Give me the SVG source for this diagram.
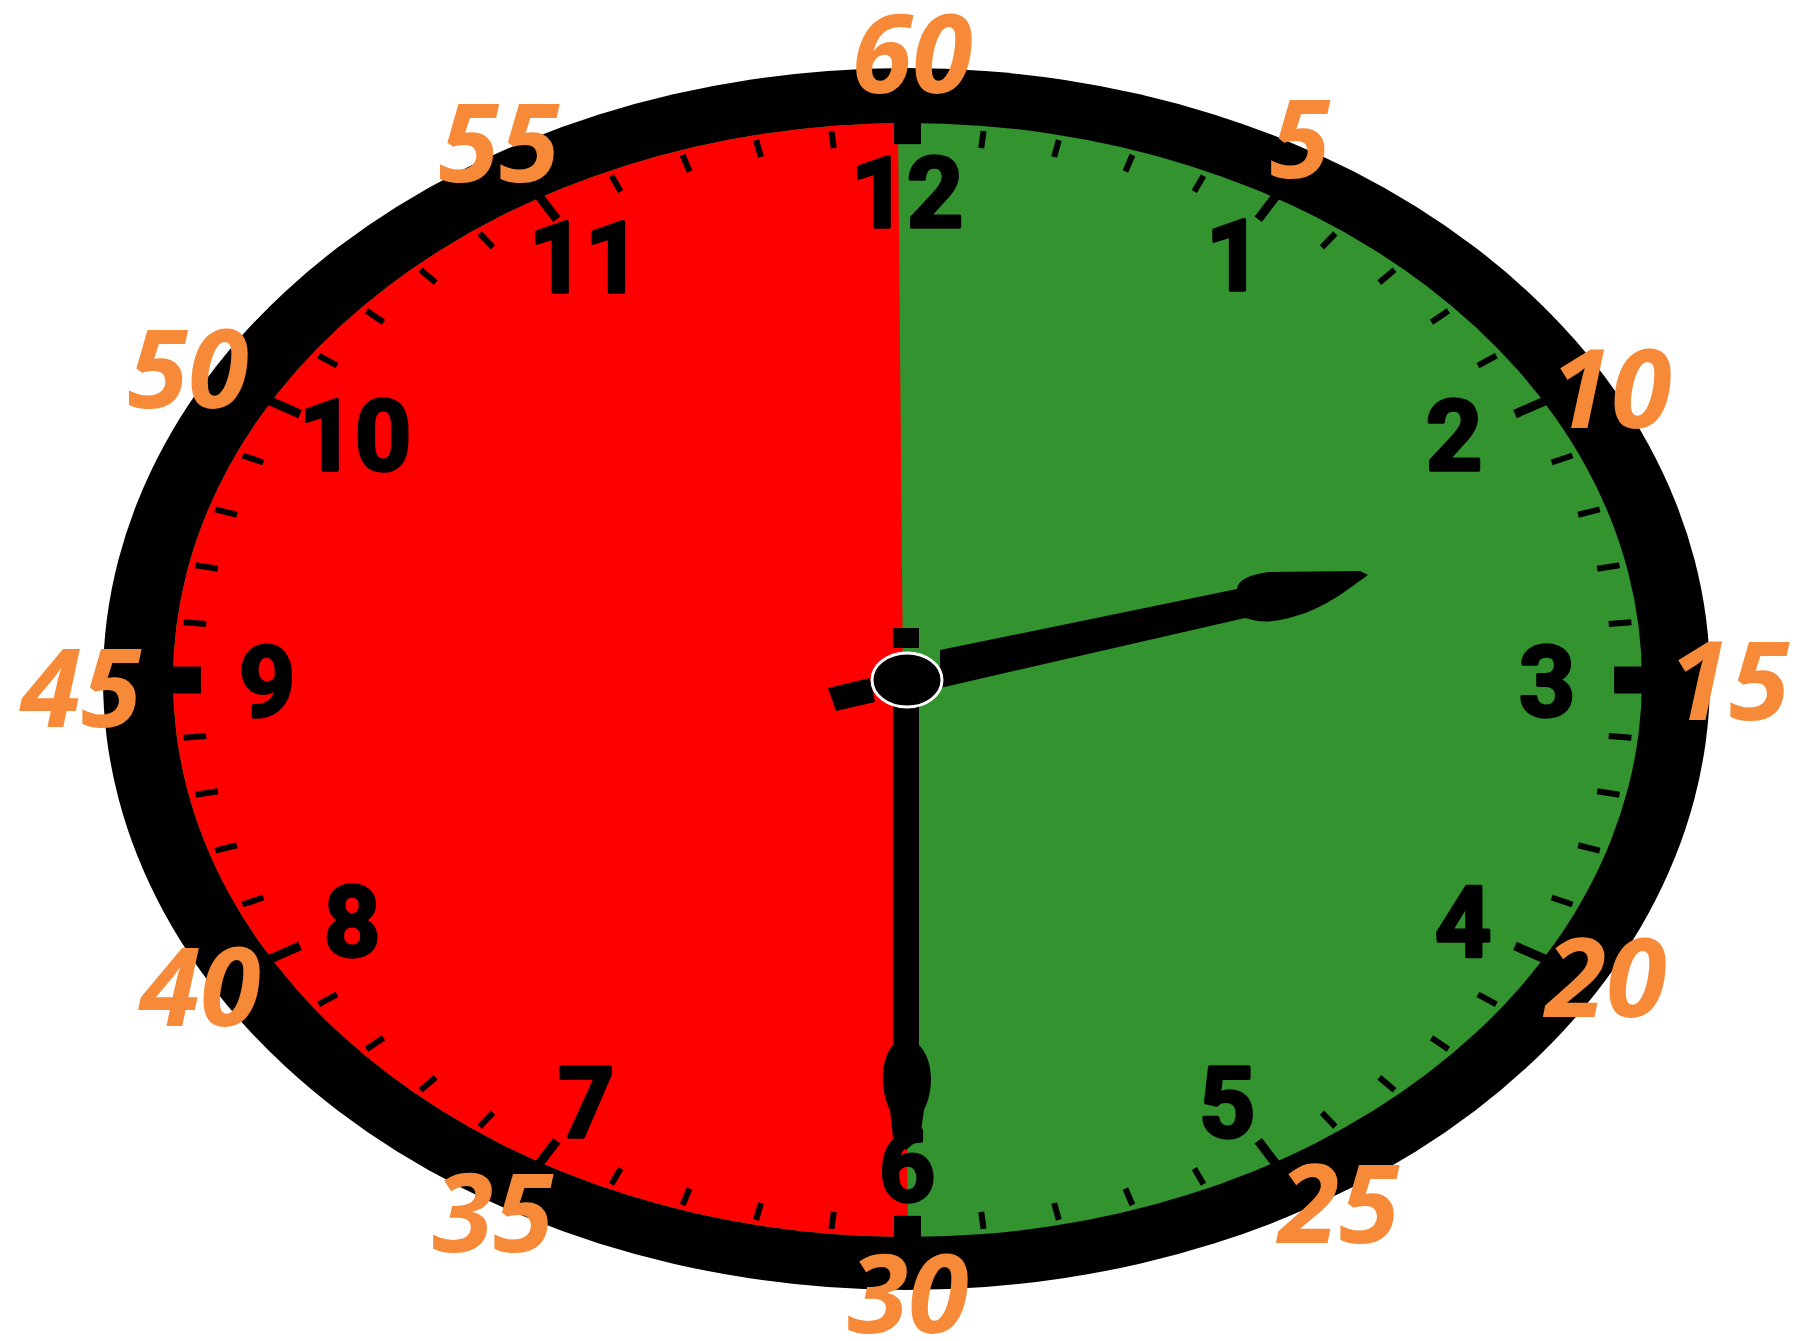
<svg xmlns="http://www.w3.org/2000/svg" width="1802" height="1341" viewBox="0 0 1802 1341">
<style>
.t{stroke:#000;stroke-width:6;vector-effect:non-scaling-stroke;fill:none}
.h{stroke:#000;stroke-width:9;vector-effect:non-scaling-stroke;fill:none}
.q{stroke:#000;stroke-width:27;vector-effect:non-scaling-stroke;fill:none}
</style>
<defs>
<clipPath id="face"><ellipse cx="907.5" cy="680" rx="734.5" ry="557"/></clipPath>
</defs>
<rect width="1802" height="1341" fill="#fff"/>
<g id="dial">
<ellipse cx="906.5" cy="679" rx="803.5" ry="611" fill="#000"/>
<ellipse cx="907.5" cy="680" rx="734.5" ry="557" fill="#33932F"/>
<polygon points="0,0 896.9,0 908.9,1341 0,1341" fill="#FE0000" clip-path="url(#face)"/>
</g>
<g id="ticks" transform="translate(907.5 680) scale(734.5 557)">
<line class="q" x1="0" y1="-1.006" x2="0" y2="-0.962" transform="rotate(0)"/>
<line class="q" x1="0" y1="-1.006" x2="0" y2="-0.962" transform="rotate(90)"/>
<line class="q" x1="0" y1="-1.006" x2="0" y2="-0.962" transform="rotate(180)"/>
<line class="q" x1="0" y1="-1.006" x2="0" y2="-0.962" transform="rotate(270)"/>
<line class="h" x1="0" y1="-1.03" x2="0" y2="-0.955" transform="rotate(30)"/>
<line class="h" x1="0" y1="-1.03" x2="0" y2="-0.955" transform="rotate(60)"/>
<line class="h" x1="0" y1="-1.03" x2="0" y2="-0.955" transform="rotate(120)"/>
<line class="h" x1="0" y1="-1.03" x2="0" y2="-0.955" transform="rotate(150)"/>
<line class="h" x1="0" y1="-1.03" x2="0" y2="-0.955" transform="rotate(210)"/>
<line class="h" x1="0" y1="-1.03" x2="0" y2="-0.955" transform="rotate(240)"/>
<line class="h" x1="0" y1="-1.03" x2="0" y2="-0.955" transform="rotate(300)"/>
<line class="h" x1="0" y1="-1.03" x2="0" y2="-0.955" transform="rotate(330)"/>
<line class="t" x1="0" y1="-0.991" x2="0" y2="-0.96" transform="rotate(6)"/>
<line class="t" x1="0" y1="-0.991" x2="0" y2="-0.96" transform="rotate(12)"/>
<line class="t" x1="0" y1="-0.991" x2="0" y2="-0.96" transform="rotate(18)"/>
<line class="t" x1="0" y1="-0.991" x2="0" y2="-0.96" transform="rotate(24)"/>
<line class="t" x1="0" y1="-0.991" x2="0" y2="-0.96" transform="rotate(36)"/>
<line class="t" x1="0" y1="-0.991" x2="0" y2="-0.96" transform="rotate(42)"/>
<line class="t" x1="0" y1="-0.991" x2="0" y2="-0.96" transform="rotate(48)"/>
<line class="t" x1="0" y1="-0.991" x2="0" y2="-0.96" transform="rotate(54)"/>
<line class="t" x1="0" y1="-0.991" x2="0" y2="-0.96" transform="rotate(66)"/>
<line class="t" x1="0" y1="-0.991" x2="0" y2="-0.96" transform="rotate(72)"/>
<line class="t" x1="0" y1="-0.991" x2="0" y2="-0.96" transform="rotate(78)"/>
<line class="t" x1="0" y1="-0.991" x2="0" y2="-0.96" transform="rotate(84)"/>
<line class="t" x1="0" y1="-0.991" x2="0" y2="-0.96" transform="rotate(96)"/>
<line class="t" x1="0" y1="-0.991" x2="0" y2="-0.96" transform="rotate(102)"/>
<line class="t" x1="0" y1="-0.991" x2="0" y2="-0.96" transform="rotate(108)"/>
<line class="t" x1="0" y1="-0.991" x2="0" y2="-0.96" transform="rotate(114)"/>
<line class="t" x1="0" y1="-0.991" x2="0" y2="-0.96" transform="rotate(126)"/>
<line class="t" x1="0" y1="-0.991" x2="0" y2="-0.96" transform="rotate(132)"/>
<line class="t" x1="0" y1="-0.991" x2="0" y2="-0.96" transform="rotate(138)"/>
<line class="t" x1="0" y1="-0.991" x2="0" y2="-0.96" transform="rotate(144)"/>
<line class="t" x1="0" y1="-0.991" x2="0" y2="-0.96" transform="rotate(156)"/>
<line class="t" x1="0" y1="-0.991" x2="0" y2="-0.96" transform="rotate(162)"/>
<line class="t" x1="0" y1="-0.991" x2="0" y2="-0.96" transform="rotate(168)"/>
<line class="t" x1="0" y1="-0.991" x2="0" y2="-0.96" transform="rotate(174)"/>
<line class="t" x1="0" y1="-0.991" x2="0" y2="-0.96" transform="rotate(186)"/>
<line class="t" x1="0" y1="-0.991" x2="0" y2="-0.96" transform="rotate(192)"/>
<line class="t" x1="0" y1="-0.991" x2="0" y2="-0.96" transform="rotate(198)"/>
<line class="t" x1="0" y1="-0.991" x2="0" y2="-0.96" transform="rotate(204)"/>
<line class="t" x1="0" y1="-0.991" x2="0" y2="-0.96" transform="rotate(216)"/>
<line class="t" x1="0" y1="-0.991" x2="0" y2="-0.96" transform="rotate(222)"/>
<line class="t" x1="0" y1="-0.991" x2="0" y2="-0.96" transform="rotate(228)"/>
<line class="t" x1="0" y1="-0.991" x2="0" y2="-0.96" transform="rotate(234)"/>
<line class="t" x1="0" y1="-0.991" x2="0" y2="-0.96" transform="rotate(246)"/>
<line class="t" x1="0" y1="-0.991" x2="0" y2="-0.96" transform="rotate(252)"/>
<line class="t" x1="0" y1="-0.991" x2="0" y2="-0.96" transform="rotate(258)"/>
<line class="t" x1="0" y1="-0.991" x2="0" y2="-0.96" transform="rotate(264)"/>
<line class="t" x1="0" y1="-0.991" x2="0" y2="-0.96" transform="rotate(276)"/>
<line class="t" x1="0" y1="-0.991" x2="0" y2="-0.96" transform="rotate(282)"/>
<line class="t" x1="0" y1="-0.991" x2="0" y2="-0.96" transform="rotate(288)"/>
<line class="t" x1="0" y1="-0.991" x2="0" y2="-0.96" transform="rotate(294)"/>
<line class="t" x1="0" y1="-0.991" x2="0" y2="-0.96" transform="rotate(306)"/>
<line class="t" x1="0" y1="-0.991" x2="0" y2="-0.96" transform="rotate(312)"/>
<line class="t" x1="0" y1="-0.991" x2="0" y2="-0.96" transform="rotate(318)"/>
<line class="t" x1="0" y1="-0.991" x2="0" y2="-0.96" transform="rotate(324)"/>
<line class="t" x1="0" y1="-0.991" x2="0" y2="-0.96" transform="rotate(336)"/>
<line class="t" x1="0" y1="-0.991" x2="0" y2="-0.96" transform="rotate(342)"/>
<line class="t" x1="0" y1="-0.991" x2="0" y2="-0.96" transform="rotate(348)"/>
<line class="t" x1="0" y1="-0.991" x2="0" y2="-0.96" transform="rotate(354)"/>
</g>
<g id="hours" font-family="Roboto, sans-serif" font-weight="bold" font-size="98" fill="#000" stroke="#000" stroke-width="3.5" stroke-linejoin="round" text-anchor="middle">
<text x="907" y="227">12</text>
<text x="1234" y="290">1</text>
<text x="1454" y="470">2</text>
<text x="1547" y="716">3</text>
<text x="1463" y="956">4</text>
<text x="1227" y="1137">5</text>
<text x="907" y="1201">6</text>
<text x="586" y="1137">7</text>
<text x="352" y="956">8</text>
<text x="267" y="716">9</text>
<text x="355" y="470">10</text>
<text x="585" y="292">11</text>
</g>
<g id="hands">
<path id="hour-hand" d="M940 650 L1237 589 C1238 582 1245 575 1270 572 L1360 571 L1368 575 C1340 595 1320 612 1280 620 C1265 623 1255 621 1245 618 L940 688 Z" fill="#000"/>
<polygon id="hour-tail" points="828,688 870,678 875,702 836,711" fill="#000"/>
<rect id="minute-stub" x="893" y="628" width="26" height="20" fill="#000"/>
<path id="minute-hand" d="M893 700 L893 1045 C880 1060 880 1090 890 1110 L893 1138 L906 1150 L920 1138 L924 1110 C934 1090 934 1060 919 1045 L919 700 Z" fill="#000"/>
<ellipse id="hub" cx="907" cy="680" rx="35" ry="27" fill="#000" stroke="#fff" stroke-width="3"/>
</g>
<g id="minutes" font-family="'Open Sans', 'Noto Sans', sans-serif" font-style="italic" font-weight="bold" font-size="110" fill="#F68A38" text-anchor="middle">
<text x="912" y="93">60</text>
<text x="1300" y="178">5</text>
<text x="1611" y="428">10</text>
<text x="1729" y="720">15</text>
<text x="1606" y="1017">20</text>
<text x="1339" y="1243">25</text>
<text x="908" y="1333">30</text>
<text x="493" y="1252">35</text>
<text x="200" y="1026">40</text>
<text x="81" y="727">45</text>
<text x="188" y="408">50</text>
<text x="499" y="182">55</text>
</g>
</svg>
